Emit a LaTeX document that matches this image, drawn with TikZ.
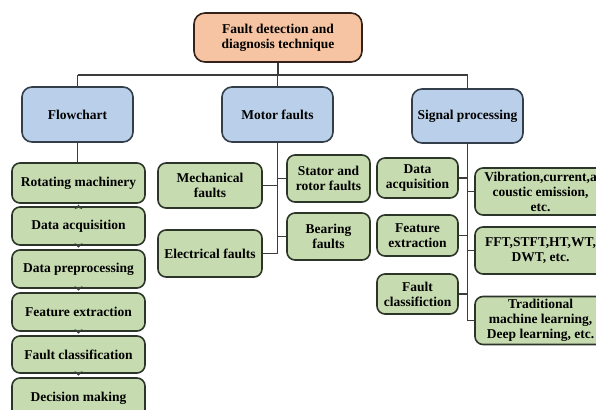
\documentclass[tikz,border=0pt]{standalone}
\usepackage{fontspec}
\setmainfont{Liberation Serif}[BoldFont={Liberation Serif Bold}]
\usetikzlibrary{arrows.meta}
\definecolor{peachfill}{HTML}{F6C4A2}
\definecolor{peachline}{HTML}{33211A}
\definecolor{bluefill}{HTML}{BAD0EA}
\definecolor{blueline}{HTML}{323E4A}
\definecolor{greenfill}{HTML}{C7DBB0}
\definecolor{greenline}{HTML}{2C3628}
\definecolor{wire}{HTML}{3C3C3C}
\tikzset{
  box/.style={draw, line width=1.6pt, align=center, inner sep=0pt,
    font=\fontsize{13.5}{15}\selectfont\bfseries, text=black},
  rootbox/.style={box, fill=peachfill, draw=peachline, rounded corners=11pt},
  headbox/.style={box, fill=bluefill, draw=blueline, rounded corners=10pt},
  leafbox/.style={box, fill=greenfill, draw=greenline, rounded corners=8pt},
  wirestyle/.style={draw=wire, line width=1.4pt},
  steparrow/.style={draw=wire, line width=1pt,
    -{Stealth[length=4.5pt,width=8pt]}}
}
\begin{document}
\begin{tikzpicture}[x=1pt,y=-1pt]
\useasboundingbox (0,0) rectangle (596,409);

% root and the three branches
\node[rootbox, minimum width=168pt, minimum height=49pt] (root) at (278,37.5)
  {Fault detection and\\diagnosis technique};
\node[headbox, minimum width=111pt, minimum height=55pt] (flow) at (77.5,114.5) {Flowchart};
\node[headbox, minimum width=111pt, minimum height=55pt] (motor) at (277.5,114.5) {Motor faults};
\node[headbox, minimum width=111pt, minimum height=54pt] (signal) at (467.5,116) {Signal processing};

% flowchart steps
\node[leafbox, minimum width=133pt, minimum height=40pt] (rot) at (78.5,183) {Rotating machinery};
\node[leafbox, minimum width=133pt, minimum height=38pt] (acq) at (78.5,226) {Data acquisition};
\node[leafbox, minimum width=133pt, minimum height=38pt] (pre) at (78.5,269) {Data preprocessing};
\node[leafbox, minimum width=133pt, minimum height=38pt] (fex) at (78.5,312) {Feature extraction};
\node[leafbox, minimum width=133pt, minimum height=37pt] (fcl) at (78.5,354.5) {Fault classification};
\node[leafbox, minimum width=133pt, minimum height=40pt] (dec) at (78.5,398)
  {Decision making};

% motor fault types
\node[leafbox, minimum width=104pt, minimum height=45pt] (mech) at (210,185.5) {Mechanical\\faults};
\node[leafbox, minimum width=104pt, minimum height=47pt] (elec) at (210,253.5) {Electrical faults};
\node[leafbox, minimum width=83pt, minimum height=47pt] (stat) at (328.5,178.5) {Stator and\\rotor faults};
\node[leafbox, minimum width=83pt, minimum height=47pt] (bear) at (328.5,236.5) {Bearing\\faults};

% signal processing stages and methods
\node[leafbox, minimum width=81pt, minimum height=40pt] (sacq) at (417.5,178) {Data\\acquisition};
\node[leafbox, minimum width=81pt, minimum height=41pt] (sfex) at (417.5,235.5) {Feature\\extraction};
\node[leafbox, minimum width=81pt, minimum height=40pt] (sfcl) at (417.5,294) {Fault\\classifiction};
\node[leafbox, minimum width=131pt, minimum height=47pt] (vib) at (540.5,191.5)
  {Vibration,current,a\\coustic emission,\\etc.};
\node[leafbox, minimum width=131pt, minimum height=47pt] (fft) at (540.5,250.5)
  {FFT,STFT,HT,WT,\\DWT, etc.};
\node[leafbox, minimum width=131pt, minimum height=48pt] (trad) at (540.5,320.5)
  {Traditional\\machine learning,\\Deep learning, etc.};

% tree wiring
\coordinate (bus) at (278,75);
\draw[wirestyle] (root.south) -- (bus);
\draw[wirestyle] (flow.north |- bus) -- (signal.north |- bus);
\draw[wirestyle] (flow.north |- bus) -- (flow.north);
\draw[wirestyle] (motor.north |- bus) -- (motor.north);
\draw[wirestyle] (signal.north |- bus) -- (signal.north);
\draw[wirestyle] (flow.south) -- (flow.south |- rot.north);

% flowchart arrows: short chevrons in the gaps between the steps
\foreach \a/\b in {rot/acq, acq/pre, pre/fex, fex/fcl, fcl/dec}
  \draw[steparrow] ([yshift=-1pt]\a.south) -- ([yshift=1.5pt]\b.north);

% motor faults wiring
\draw[wirestyle] (motor.south) -- (motor.south |- elec.east);
\draw[wirestyle] (mech.east) -- (mech.east -| motor.south);
\draw[wirestyle] (elec.east) -- (elec.east -| motor.south);
\draw[wirestyle] (stat.west) -- (stat.west -| motor.south);
\draw[wirestyle] (bear.west) -- (bear.west -| motor.south);

% signal processing wiring
\draw[wirestyle] (signal.south) -- (signal.south |- trad.west);
\foreach \n in {sacq, sfex, sfcl}
  \draw[wirestyle] (\n.east) -- (\n.east -| signal.south);
\foreach \n in {vib, fft, trad}
  \draw[wirestyle] (\n.west) -- (\n.west -| signal.south);
\end{tikzpicture}
\end{document}
